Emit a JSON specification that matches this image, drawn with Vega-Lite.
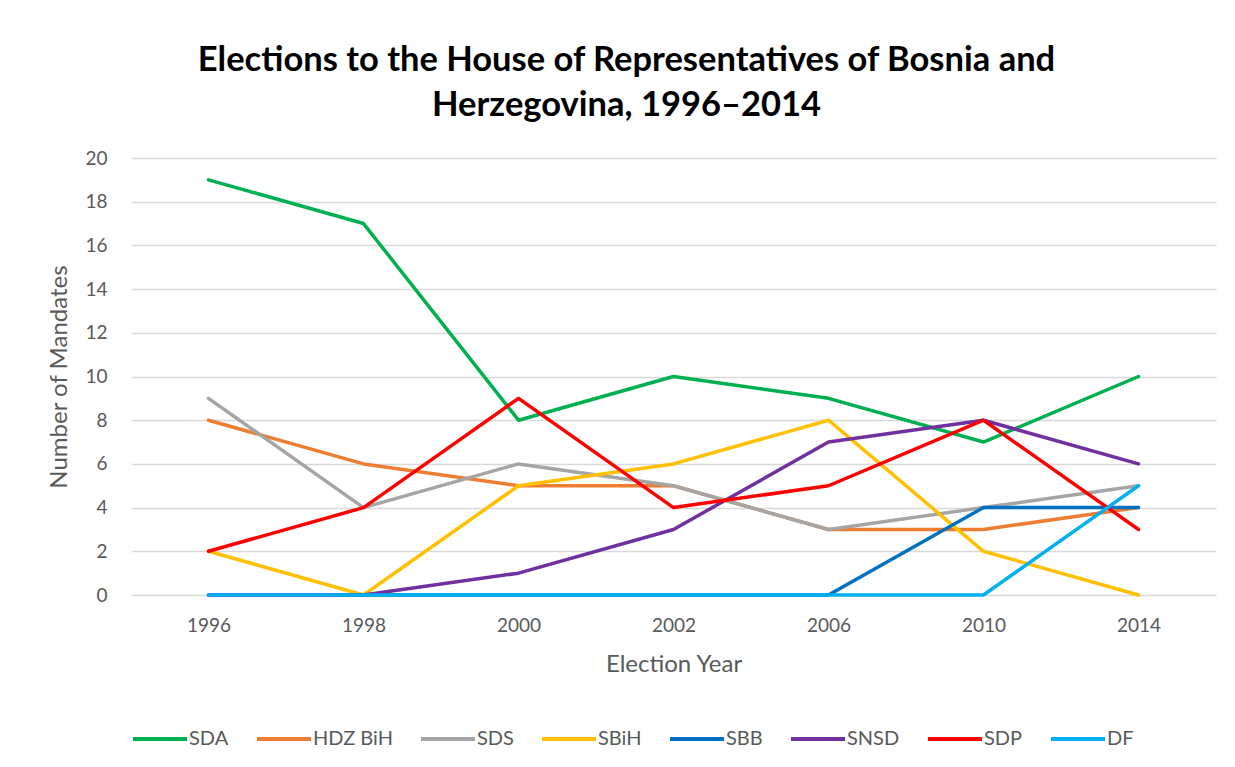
{
  "$schema": "https://vega.github.io/schema/vega-lite/v6.json",
  "width": 1085,
  "height": 437,
  "autosize": {"type": "none"},
  "padding": {"left": 131, "top": 158, "right": 19, "bottom": 172},
  "background": "white",
  "title": {
    "text": ["Elections to the House of Representatives of Bosnia and", "Herzegovina, 1996–2014"],
    "font": "Lato",
    "fontSize": 34.5,
    "fontWeight": "bold",
    "color": "#000000",
    "lineHeight": 45,
    "anchor": "middle",
    "dx": -47,
    "offset": 26
  },
  "data": {
    "values": [
      {"year": "1996", "SDA": 19, "HDZ BiH": 8, "SDS": 9, "SBiH": 2, "SBB": 0, "SNSD": 0, "SDP": 2, "DF": 0},
      {"year": "1998", "SDA": 17, "HDZ BiH": 6, "SDS": 4, "SBiH": 0, "SBB": 0, "SNSD": 0, "SDP": 4, "DF": 0},
      {"year": "2000", "SDA": 8, "HDZ BiH": 5, "SDS": 6, "SBiH": 5, "SBB": 0, "SNSD": 1, "SDP": 9, "DF": 0},
      {"year": "2002", "SDA": 10, "HDZ BiH": 5, "SDS": 5, "SBiH": 6, "SBB": 0, "SNSD": 3, "SDP": 4, "DF": 0},
      {"year": "2006", "SDA": 9, "HDZ BiH": 3, "SDS": 3, "SBiH": 8, "SBB": 0, "SNSD": 7, "SDP": 5, "DF": 0},
      {"year": "2010", "SDA": 7, "HDZ BiH": 3, "SDS": 4, "SBiH": 2, "SBB": 4, "SNSD": 8, "SDP": 8, "DF": 0},
      {"year": "2014", "SDA": 10, "HDZ BiH": 4, "SDS": 5, "SBiH": 0, "SBB": 4, "SNSD": 6, "SDP": 3, "DF": 5}
    ]
  },
  "transform": [
    {"fold": ["SDA", "HDZ BiH", "SDS", "SBiH", "SBB", "SNSD", "SDP", "DF"], "as": ["party", "mandates"]}
  ],
  "mark": {"type": "line", "strokeWidth": 3.5, "strokeCap": "round", "strokeJoin": "round"},
  "encoding": {
    "x": {
      "field": "year",
      "type": "ordinal",
      "scale": {"type": "point", "padding": 0.5},
      "axis": {
        "title": "Election Year",
        "labelAngle": 0,
        "labelFont": "Lato",
        "labelFontSize": 19,
        "labelColor": "#595959",
        "labelPadding": 21,
        "titleFont": "Lato",
        "titleFontSize": 24,
        "titleFontWeight": "normal",
        "titleColor": "#595959",
        "titlePadding": 17,
        "ticks": false,
        "domain": false,
        "grid": false
      }
    },
    "y": {
      "field": "mandates",
      "type": "quantitative",
      "scale": {"domain": [0, 20], "nice": false},
      "axis": {
        "title": "Number of Mandates",
        "values": [0, 2, 4, 6, 8, 10, 12, 14, 16, 18, 20],
        "labelFont": "Lato",
        "labelFontSize": 19,
        "labelColor": "#595959",
        "labelPadding": 24,
        "titleFont": "Lato",
        "titleFontSize": 24,
        "titleFontWeight": "normal",
        "titleColor": "#595959",
        "titlePadding": 13,
        "ticks": false,
        "domain": false,
        "grid": true,
        "gridColor": "#d9d9d9",
        "gridWidth": 1.5
      }
    },
    "color": {
      "field": "party",
      "type": "nominal",
      "scale": {
        "domain": ["SDA", "HDZ BiH", "SDS", "SBiH", "SBB", "SNSD", "SDP", "DF"],
        "range": ["#00B050", "#ED7D31", "#A5A5A5", "#FFC000", "#0070C0", "#7030A0", "#FF0000", "#00B0F0"]
      },
      "legend": {
        "title": null,
        "orient": "none",
        "direction": "horizontal",
        "legendX": 0,
        "legendY": 552,
        "symbolType": "stroke",
        "symbolSize": 2916,
        "symbolStrokeWidth": 4,
        "labelFont": "Lato",
        "labelFontSize": 20,
        "labelColor": "#595959",
        "labelOffset": 0,
        "columnPadding": 20
      }
    }
  },
  "config": {"view": {"stroke": null}}
}
